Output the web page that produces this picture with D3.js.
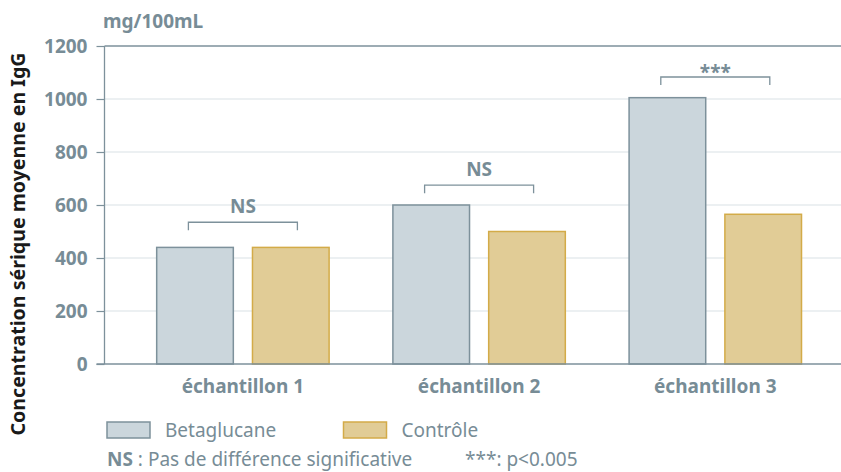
<!DOCTYPE html>
<html><head><meta charset="utf-8">
<script src="https://cdn.jsdelivr.net/npm/d3@7"></script>
<style>body{margin:0;background:#fff}svg{display:block;font-family:"Noto Sans",sans-serif}</style>
</head><body>
<svg id="c" width="841" height="472"></svg>
<script>
const categories = ["échantillon 1", "échantillon 2", "échantillon 3"];
const series = ["Betaglucane", "Contrôle"];
const betaglucane = [440, 600, 1005];
const controle = [440, 500, 565];
const sigLabels = ["NS", "NS", "***"];
const sigLevels = [535, 675, 1083];
const yTicks = [0, 200, 400, 600, 800, 1000, 1200];

(function () {
const plotL = 104.5, plotR = 841, plotT = 46, plotB = 364;
const grey = "#778c96", axisCol = "#7d919b", gridCol = "#d9e2e6";
const fills = ["#cbd6dc", "#e1cc96"], strokes = ["#7d919b", "#d3ab48"];

const svg = d3.select("#c");
const y = d3.scaleLinear().domain([0, 1200]).range([plotB, plotT]);
const x = d3.scaleBand().domain(categories).range([124.8, 833.4]).paddingInner(0.27).paddingOuter(0.135);
const xs = d3.scaleBand().domain(series).range([0, x.bandwidth()]).paddingInner(0.2);

// gridlines
svg.append("g").selectAll("line").data(yTicks.filter(t => t > 0 && t < 1200)).join("line")
  .attr("x1", plotL).attr("x2", plotR).attr("y1", d => y(d)).attr("y2", d => y(d))
  .attr("stroke", gridCol).attr("stroke-width", 1.2);

// y axis
const ya = svg.append("g").attr("transform", `translate(${plotL},0)`)
  .call(d3.axisLeft(y).tickValues(yTicks).tickFormat(d3.format("d")).tickSize(8).tickPadding(9));
ya.select(".domain").remove();
ya.selectAll(".tick line").attr("stroke", axisCol).attr("stroke-width", 1.2);
ya.selectAll(".tick text").attr("fill", grey).attr("font-size", 19).attr("font-weight", 700)
  .attr("font-family", "Noto Sans");
svg.append("line").attr("x1", plotL).attr("x2", plotL).attr("y1", y(1200)).attr("y2", y(0))
  .attr("stroke", axisCol).attr("stroke-width", 1.3);
svg.append("line").attr("x1", plotL).attr("x2", plotR).attr("y1", y(1200)).attr("y2", y(1200))
  .attr("stroke", axisCol).attr("stroke-width", 1.3);

// bars
const data = categories.map((c, i) => ({c, vals: [betaglucane[i], controle[i]]}));
const g = svg.append("g").selectAll("g").data(data).join("g")
  .attr("transform", d => `translate(${x(d.c)},0)`);
g.selectAll("rect").data(d => d.vals.map((v, j) => ({s: series[j], v, j}))).join("rect")
  .attr("x", d => xs(d.s)).attr("width", xs.bandwidth())
  .attr("y", d => y(d.v)).attr("height", d => y(0) - y(d.v))
  .attr("fill", d => fills[d.j]).attr("stroke", d => strokes[d.j]).attr("stroke-width", 1.5);

// baseline
svg.append("line").attr("x1", plotL - 8).attr("x2", plotR).attr("y1", y(0)).attr("y2", y(0))
  .attr("stroke", axisCol).attr("stroke-width", 1.3);

// x axis labels
svg.append("g").selectAll("text").data(categories).join("text")
  .attr("x", d => x(d) + x.bandwidth() / 2).attr("y", 393)
  .attr("text-anchor", "middle").attr("fill", grey).attr("font-size", 19).attr("font-weight", 700)
  .text(d => d);

// significance brackets
const bw = 54.5, tick = 8;
const br = svg.append("g").selectAll("g").data(categories).join("g");
br.append("path")
  .attr("d", (d, i) => {
    const cx = x(d) + x.bandwidth() / 2, yy = y(sigLevels[i]);
    return `M${cx - bw},${yy + tick}V${yy}H${cx + bw}V${yy + tick}`;
  })
  .attr("fill", "none").attr("stroke", axisCol).attr("stroke-width", 1.3);
br.append("text")
  .attr("x", d => x(d) + x.bandwidth() / 2)
  .attr("y", (d, i) => y(sigLevels[i]) - (sigLabels[i] === "***" ? -2 : 9))
  .attr("text-anchor", "middle").attr("fill", grey).attr("font-size", 19).attr("font-weight", 700)
  .text((d, i) => sigLabels[i]);

// unit
svg.append("text").attr("x", 103).attr("y", 28).attr("fill", grey)
  .attr("font-size", 19).attr("font-weight", 700).text("mg/100mL");

// y title
svg.append("text").attr("transform", `translate(25,${(440 + 48) / 2}) rotate(-90)`)
  .attr("text-anchor", "middle").attr("fill", "#1a1a1a").attr("font-size", 19.6).attr("font-weight", 700)
  .text("Concentration sérique moyenne en IgG");

// legend
const legX = [107, 343.5];
const lg = svg.append("g").selectAll("g").data(series).join("g")
  .attr("transform", (d, i) => `translate(${legX[i]},422)`);
lg.append("rect").attr("width", 43).attr("height", 16)
  .attr("fill", (d, i) => fills[i]).attr("stroke", (d, i) => strokes[i]).attr("stroke-width", 1.5);
lg.append("text").attr("x", 58).attr("y", 15).attr("fill", grey).attr("font-size", 19).text(d => d);

// footnote
const fn = svg.append("text").attr("x", 107).attr("y", 466).attr("fill", grey).attr("font-size", 19);
fn.append("tspan").attr("font-weight", 700).text("NS");
fn.append("tspan").text(" : Pas de différence significative");
svg.append("text").attr("x", 465).attr("y", 466).attr("fill", grey).attr("font-size", 19).text("***: p<0.005");
})();
</script>
</body></html>
